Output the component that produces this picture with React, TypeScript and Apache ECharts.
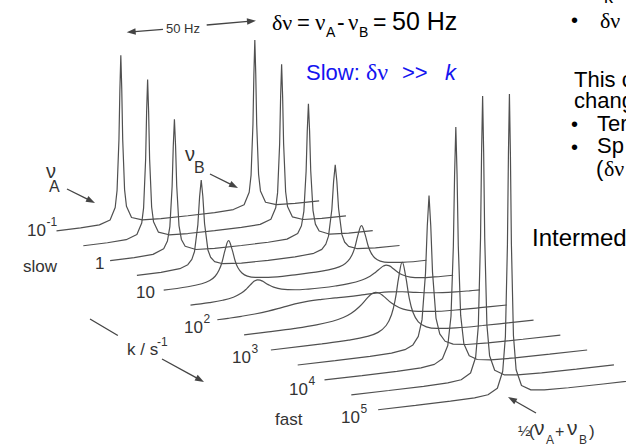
import React, { useEffect, useRef } from "react";
import * as echarts from "echarts";

// ---- data: two-site exchange spectra, [frequency offset (Hz), intensity (a.u.)] ----
// exchange rates k (s^-1) of the 13 stacked spectra, slow (top) to fast (bottom)
const rateExponents = [-1, -0.5, 0, 0.5, 1, 1.5, 2, 2.5, 3, 3.5, 4, 4.5, 5];

const k0_1 = [[-49,0.08],[-40,0.22],[-33,0.75],[-29,2.9],[-27.1,9.9],[-26.4,19.8],[-25.7,49.5],[-25.35,79],[-25,99],[-24.65,79],[-24.3,49.5],[-23.6,19.8],[-22.9,9.9],[-21,2.9],[-17,0.75],[-10,0.25],[0,0.16],[10,0.25],[17,0.75],[21,2.9],[22.9,9.9],[23.6,19.8],[24.3,49.5],[24.65,79],[25,99],[25.35,79],[25.7,49.5],[26.4,19.8],[27.1,9.9],[29,2.9],[33,0.75],[40,0.22],[49,0.08]];
const k0_32 = [[-49,0.09],[-40,0.23],[-33,0.79],[-29,3.1],[-27.2,9.5],[-26.5,18.3],[-25.74,46.8],[-25.37,74.8],[-25,93.5],[-24.63,74.8],[-24.26,46.8],[-23.5,18.3],[-22.8,9.5],[-21,3.1],[-17,0.79],[-10,0.27],[0,0.16],[10,0.27],[17,0.79],[21,3.1],[22.8,9.5],[23.5,18.3],[24.26,46.8],[24.63,74.8],[25,93.5],[25.37,74.8],[25.74,46.8],[26.5,18.3],[27.2,9.5],[29,3.1],[33,0.79],[40,0.23],[49,0.09]];
const k1 = [[-49,0.1],[-40,0.26],[-33,0.9],[-29,3.5],[-27.6,7.8],[-26.7,16.1],[-25.86,39.5],[-25.43,63.2],[-25,79],[-24.57,63.2],[-24.14,39.5],[-23.3,16.1],[-22.4,7.8],[-21,3.5],[-17,0.9],[-10,0.31],[0,0.19],[10,0.31],[17,0.9],[21,3.5],[22.4,7.8],[23.3,16.1],[24.14,39.5],[24.57,63.2],[25,79],[25.43,63.2],[25.86,39.5],[26.7,16.1],[27.6,7.8],[29,3.5],[33,0.9],[40,0.26],[49,0.1]];
const k3_2 = [[-49,0.14],[-40,0.36],[-33,1.24],[-30,3.06],[-28.5,5.9],[-27.5,10.4],[-26.25,26],[-25.6,42.3],[-25,52],[-24.4,42.3],[-23.75,26],[-22.5,10.4],[-21.5,5.9],[-20,3.1],[-17,1.3],[-10,0.43],[0,0.26],[10,0.43],[17,1.3],[20,3.1],[21.5,5.9],[22.5,10.4],[23.75,26],[24.4,42.3],[25,52],[25.6,42.3],[26.25,26],[27.5,10.4],[28.5,5.9],[30,3.06],[33,1.24],[40,0.36],[49,0.14]];
const k10 = [[-49,0.26],[-40,0.66],[-34.8,1.5],[-31.8,2.85],[-29.8,5],[-28.3,8.5],[-27.3,12.5],[-26.05,20],[-24.8,25],[-23.55,20],[-22.3,12.5],[-21.3,8.5],[-19.8,5.1],[-17.8,2.9],[-14.8,1.6],[-10,0.82],[0,0.5],[10,0.82],[14.8,1.6],[17.8,2.9],[19.8,5.1],[21.3,8.5],[22.3,12.5],[23.55,20],[24.8,25],[26.05,20],[27.3,12.5],[28.3,8.5],[29.8,5],[31.8,2.85],[34.8,1.5],[40,0.66],[49,0.26]];
const k32 = [[-49,0.19],[-42,0.44],[-37,0.93],[-33,1.98],[-30,3.87],[-28,6.16],[-26,9.08],[-25,10.19],[-24,10.62],[-23,10.27],[-22,9.36],[-20,7.07],[-18,5.22],[-15,3.53],[-10,2.25],[-5,1.78],[0,1.65],[5,1.78],[10,2.25],[15,3.53],[18,5.22],[20,7.07],[22,9.36],[23,10.27],[24,10.62],[25,10.19],[26,9.08],[28,6.16],[30,3.87],[33,1.98],[37,0.93],[42,0.44],[49,0.19]];
const k100 = [[-49,0.37],[-45,0.51],[-40,0.79],[-35,1.27],[-30,2.06],[-25,3.22],[-20,4.47],[-15,5.26],[-10,5.41],[-5,5.29],[0,5.22],[5,5.29],[10,5.41],[15,5.26],[20,4.47],[25,3.22],[30,2.06],[35,1.27],[40,0.79],[45,0.51],[49,0.37]];
const k320 = [[-49,0.23],[-40,0.38],[-30,0.7],[-22,1.31],[-16,2.36],[-12,3.81],[-9,5.77],[-6,9.06],[-3,13.7],[-1.5,15.7],[0,16.5],[1.5,15.7],[3,13.7],[6,9.06],[9,5.77],[12,3.81],[16,2.36],[22,1.31],[30,0.7],[40,0.38],[49,0.23]];
const k1000 = [[-49,0.12],[-30,0.32],[-20,0.71],[-13,1.65],[-9,3.31],[-6,6.8],[-4,12.8],[-2.6,21.5],[-1.3,34.4],[0,43],[1.3,34.4],[2.6,21.5],[4,12.8],[6,6.8],[9,3.31],[13,1.65],[20,0.71],[30,0.32],[49,0.12]];
const k3200 = [[-49,0.07],[-35,0.13],[-22,0.32],[-14,0.79],[-9,1.89],[-6,4.14],[-4,8.8],[-2.6,18.4],[-1.31,45.5],[-0.65,73],[0,91],[0.65,73],[1.31,45.5],[2.6,18.4],[4,8.8],[6,4.14],[9,1.89],[14,0.79],[22,0.32],[35,0.13],[49,0.07]];
const k10000 = [[-49,0.05],[-35,0.1],[-22,0.24],[-13,0.7],[-8,1.83],[-5,4.58],[-3,12],[-1.8,29],[-0.92,70],[-0.46,112],[0,140],[0.46,112],[0.92,70],[1.8,29],[3,12],[5,4.58],[8,1.83],[13,0.7],[22,0.24],[35,0.1],[49,0.05]];
const k32000 = [[-49,0.04],[-35,0.08],[-22,0.21],[-13,0.6],[-8,1.57],[-4.5,4.87],[-2.6,13.8],[-1.6,32.1],[-0.78,83.5],[-0.39,133.7],[0,167],[0.39,133.7],[0.78,83.5],[1.6,32.1],[2.6,13.8],[4.5,4.87],[8,1.57],[13,0.6],[22,0.21],[35,0.08],[49,0.04]];
const k100000 = [[-49,0.04],[-35,0.08],[-22,0.2],[-13,0.57],[-8,1.5],[-4.5,4.66],[-2.5,14.3],[-1.5,34.6],[-0.74,88.5],[-0.37,141.5],[0,177],[0.37,141.5],[0.74,88.5],[1.5,34.6],[2.5,14.3],[4.5,4.66],[8,1.5],[13,0.57],[22,0.2],[35,0.08],[49,0.04]];

const spectra = [k0_1, k0_32, k1, k3_2, k10, k32, k100, k320, k1000, k3200, k10000, k32000, k100000];
const smoothTrace = [false, false, false, false, true, true, true, true, true, false, false, false, false];

// tick labels of the rate axis (every second spectrum)
const tickBase = ["10", "1", "10", "10", "10", "10", "10"];
const tickSup = ["-1", "", "", "2", "3", "4", "5"];

// ---- layout (waterfall geometry) ----
const X_STEP = 10; // Hz shift per spectrum
const Y_STEP = 8.765; // intensity shift per spectrum
const TILT = 0.1797; // baseline tilt (intensity per Hz)
const PX_PER_HZ = 2.68;
const PX_PER_UNIT = 1.7;
const X_MIN = -49 - 56.5 / PX_PER_HZ;
const X_MAX = X_MIN + 626 / PX_PER_HZ;
const Y_MAX = 231 / PX_PER_UNIT;
const Y_MIN = Y_MAX - 446 / PX_PER_UNIT;

const SANS = '"Liberation Sans", Arial, Helvetica, sans-serif';
const SERIF = '"Liberation Serif", "Times New Roman", serif';
const FIG = "#333333";
const LINE = "#505050";
const BLUE = "#1414f0";

type Run = [string, number, number, number, string?, string?, string?];
// [text, x, baseline, size, family, color, fontStyle]
function runs(list: Run[]) {
  return list.map(([t, x, b, size, fam, color, st]) => {
    const family = fam || SANS;
    const k = family === SERIF ? 0.338 : 0.347;
    return {
      type: "text",
      x,
      y: b - k * size,
      silent: true,
      style: {
        text: t,
        fontSize: size,
        fontFamily: family,
        fontStyle: st || "normal",
        fill: color || "#000",
        align: "left",
        verticalAlign: "middle",
      },
    };
  });
}

function arrow(x1: number, y1: number, x2: number, y2: number, head = true, color = "#444") {
  const dx = x2 - x1, dy = y2 - y1;
  const L = Math.hypot(dx, dy);
  const ux = dx / L, uy = dy / L;
  const hl = 9, hw = 3.2;
  const bx = head ? x2 - ux * hl : x2, by = head ? y2 - uy * hl : y2;
  const els: any[] = [
    { type: "line", silent: true, shape: { x1, y1, x2: bx + ux * 1, y2: by + uy * 1 }, style: { stroke: color, lineWidth: 1.3 } },
  ];
  if (head) {
    els.push({
      type: "polygon",
      silent: true,
      shape: { points: [[x2, y2], [bx - uy * hw, by + ux * hw], [bx + uy * hw, by - ux * hw]] },
      style: { fill: color },
    });
  }
  return els;
}

const tickPos = [[27, 236], [95, 269], [136, 298], [184, 333], [232, 363], [289, 395], [341, 423]];

export default function App() {
  const ref = useRef<HTMLDivElement>(null);
  useEffect(() => {
    if (!ref.current) return;
    const chart = echarts.init(ref.current, undefined, { renderer: "svg" });

    const series = spectra.map((pts, i) => ({
      type: "line",
      name: "k = 10^" + rateExponents[i],
      data: pts.map(([f, v]) => [f + i * X_STEP, v - i * Y_STEP + TILT * (f + 49)]),
      showSymbol: false,
      symbol: "none",
      smooth: smoothTrace[i] ? 0.4 : false,
      silent: true,
      lineStyle: { color: LINE, width: 1.2 },
    }));

    const texts: Run[] = [];
    tickBase.forEach((b, j) => {
      const [x, y] = tickPos[j];
      texts.push([b, x, y, 17, SANS, FIG]);
      if (tickSup[j]) texts.push([tickSup[j], x + (b === "10" ? 19.5 : 10), y - 10, 12, SANS, FIG]);
    });
    texts.push(["slow", 23, 272, 17, SANS, FIG]);
    texts.push(["fast", 275, 425, 17, SANS, FIG]);
    texts.push(["k / s", 127, 355, 17, SANS, FIG]);
    texts.push(["-1", 157, 346, 12, SANS, FIG]);
    texts.push(["50 Hz", 166, 33, 13, SANS, FIG]);
    // nu_A, nu_B labels
    texts.push(["ν", 46, 178, 20, SANS, FIG]);
    texts.push(["A", 49, 192, 16, SANS, FIG]);
    texts.push(["ν", 185, 161, 20, SANS, FIG]);
    texts.push(["B", 194, 173, 16, SANS, FIG]);
    // 1/2 (nu_A + nu_B)
    texts.push(["½", 518, 436, 15, SANS, FIG]);
    texts.push(["(", 529, 437, 17, SANS, FIG]);
    texts.push(["ν", 534, 435, 21, SANS, FIG]);
    texts.push(["A", 546, 444, 12, SANS, FIG]);
    texts.push(["+", 555, 437, 16, SANS, FIG]);
    texts.push(["ν", 567, 435, 21, SANS, FIG]);
    texts.push(["B", 579, 444, 12, SANS, FIG]);
    texts.push([")", 589, 437, 17, SANS, FIG]);
    // slide text
    texts.push(["δν", 272, 30, 22, SERIF]);
    texts.push(["=", 297, 30, 22]);
    texts.push(["ν", 315, 30, 23, SERIF]);
    texts.push(["A", 326, 37, 14]);
    texts.push(["-", 337, 30, 23]);
    texts.push(["ν", 348, 30, 23, SERIF]);
    texts.push(["B", 359, 37, 14]);
    texts.push(["=", 373, 30, 23]);
    texts.push(["50 Hz", 392, 30, 25]);
    texts.push(["Slow:", 306, 80, 22, SANS, BLUE]);
    texts.push(["δν", 366, 80, 24, SERIF, BLUE]);
    texts.push([">>", 402, 80, 22, SANS, BLUE]);
    texts.push(["k", 445, 80, 22, SANS, BLUE, "italic"]);
    // right column (cut by the edge)
    texts.push(["k", 604, 3, 18]);
    texts.push(["•", 571, 27, 20]);
    texts.push(["δν", 600, 28, 22, SERIF]);
    texts.push(["This c", 574, 87, 22]);
    texts.push(["chang", 574, 108, 22]);
    texts.push(["•", 571, 131, 20]);
    texts.push(["Ter", 597, 131, 22]);
    texts.push(["•", 571, 154, 20]);
    texts.push(["Sp", 597, 153, 22]);
    texts.push(["(", 596, 176, 22]);
    texts.push(["δν", 604, 176, 22, SERIF]);
    texts.push(["Intermed", 532, 246, 24]);

    const graphic = [
      ...runs(texts),
      ...arrow(67, 189, 95, 203),
      ...arrow(210, 174, 238, 188),
      ...arrow(162, 359, 204, 382),
      ...arrow(90, 319, 117, 335, false),
      ...arrow(163, 29.3, 126.7, 32.3),
      ...arrow(206.7, 25, 256, 20.7),
      ...arrow(536, 413, 508, 397),
    ];

    chart.setOption({
      animation: false,
      backgroundColor: "#ffffff",
      grid: { left: 0, right: 0, top: 0, bottom: 0, containLabel: false },
      xAxis: { type: "value", min: X_MIN, max: X_MAX, show: false },
      yAxis: { type: "value", min: Y_MIN, max: Y_MAX, show: false },
      series,
      graphic,
    });
    return () => chart.dispose();
  }, []);
  return (
    <div
      ref={ref}
      style={{ position: "fixed", left: 0, top: 0, width: 626, height: 446, background: "#fff" }}
    />
  );
}
